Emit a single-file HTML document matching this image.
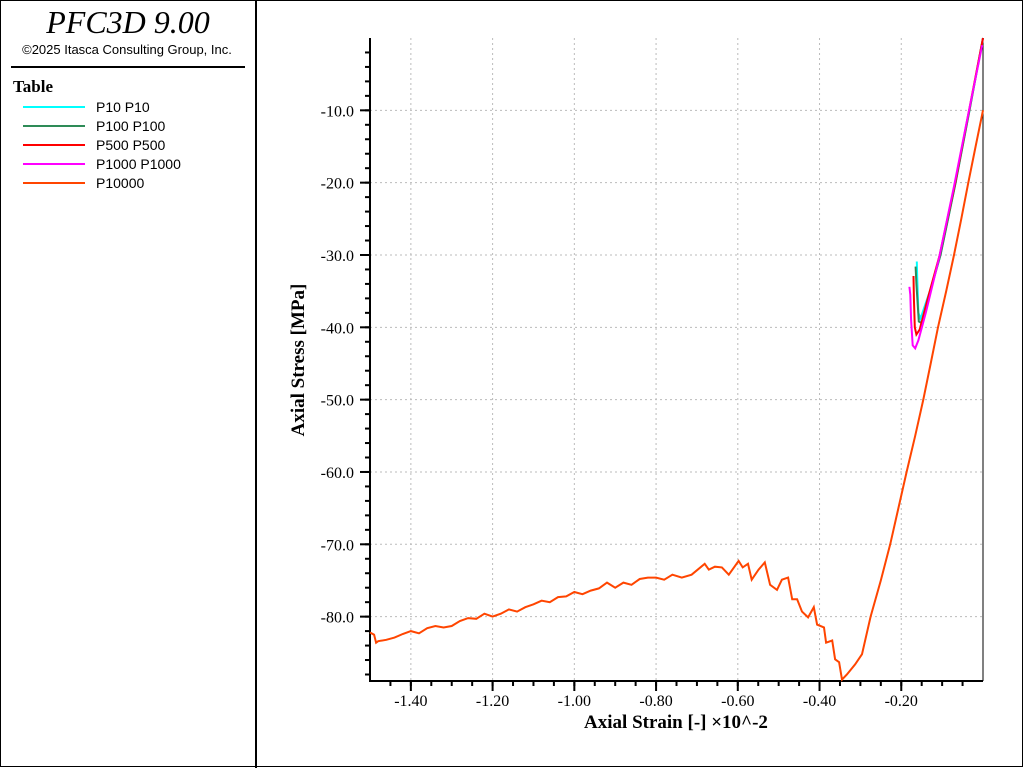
<!DOCTYPE html>
<html><head><meta charset="utf-8"><style>
body{margin:0;background:#fff;width:1024px;height:768px;overflow:hidden;font-family:"Liberation Sans",sans-serif}
</style></head><body>
<svg width="1024" height="768" xmlns="http://www.w3.org/2000/svg">
<rect x="0.5" y="0.5" width="1022" height="766" fill="#fff" stroke="#000" stroke-width="1"/>
<line x1="256" y1="0" x2="256" y2="768" stroke="#000" stroke-width="2"/>
<g>
<text x="128" y="33" text-anchor="middle" font-family="Liberation Serif" font-style="italic" font-size="32">PFC3D 9.00</text>
<text x="127" y="54" text-anchor="middle" font-size="13">©2025 Itasca Consulting Group, Inc.</text>
<line x1="11" y1="67" x2="245" y2="67" stroke="#000" stroke-width="2"/>
<text x="13" y="92" font-family="Liberation Serif" font-weight="bold" font-size="17">Table</text>
<g id="legend"></g>
</g>
<g id="plot"></g>
</svg>
<script>
const seriesNames=["P10 P10","P100 P100","P500 P500","P1000 P1000","P10000"];
const seriesColors=["#00FFFF","#2E8B57","#FF0000","#FF00FF","#FF4500"];
const xTicks=[-1.40,-1.20,-1.00,-0.80,-0.60,-0.40,-0.20];
const yTicks=[-10,-20,-30,-40,-50,-60,-70,-80];
const p10x=[0,-0.033,-0.067,-0.104,-0.13,-0.153,-0.158,-0.161,-0.162];
const p10y=[0,-10,-20,-30,-35,-38.8,-38,-33,-30.9];
const p100x=[0,-0.033,-0.067,-0.104,-0.13,-0.150,-0.157,-0.163,-0.165];
const p100y=[0,-10,-20,-30,-35.2,-39.4,-39.2,-34,-31.6];
const p500x=[0,-0.034,-0.068,-0.106,-0.135,-0.155,-0.163,-0.167,-0.169,-0.170];
const p500y=[0,-10,-20,-30,-36,-40.3,-41,-40,-36,-32.9];
const p1000x=[-0.002,-0.036,-0.071,-0.108,-0.14,-0.158,-0.166,-0.172,-0.176,-0.178,-0.18];
const p1000y=[-1,-10.5,-20.5,-30.5,-38,-41.8,-42.9,-42.5,-39,-35.5,-34.4];
const p10000x=[-1.5,-1.49,-1.485,-1.48,-1.46,-1.44,-1.42,-1.40,-1.38,-1.36,-1.34,-1.32,-1.30,-1.28,-1.26,-1.24,-1.22,-1.20,-1.18,-1.16,-1.14,-1.12,-1.10,-1.08,-1.06,-1.04,-1.02,-1.00,-0.98,-0.96,-0.94,-0.92,-0.90,-0.88,-0.86,-0.84,-0.82,-0.80,-0.78,-0.76,-0.737,-0.713,-0.681,-0.671,-0.656,-0.639,-0.622,-0.598,-0.588,-0.575,-0.566,-0.549,-0.534,-0.521,-0.504,-0.492,-0.477,-0.467,-0.455,-0.443,-0.428,-0.414,-0.406,-0.389,-0.384,-0.369,-0.362,-0.352,-0.345,-0.333,-0.313,-0.296,-0.275,-0.25,-0.227,-0.207,-0.187,-0.166,-0.146,-0.128,-0.11,-0.09,-0.071,-0.053,-0.036,-0.018,0.0];
const p10000y=[-82.2,-82.5,-83.6,-83.4,-83.2,-82.9,-82.4,-82.0,-82.3,-81.6,-81.3,-81.5,-81.3,-80.6,-80.2,-80.3,-79.6,-80.0,-79.6,-79.0,-79.3,-78.7,-78.3,-77.8,-78.0,-77.3,-77.2,-76.6,-76.9,-76.4,-76.1,-75.3,-76.0,-75.3,-75.6,-74.8,-74.6,-74.6,-74.9,-74.2,-74.6,-74.2,-72.7,-73.5,-73.1,-73.2,-74.2,-72.3,-73.2,-72.7,-74.9,-73.5,-72.5,-75.6,-76.3,-74.9,-74.6,-77.6,-77.6,-79.3,-80.1,-78.7,-81.1,-81.5,-83.6,-83.3,-85.9,-86.3,-88.7,-88.0,-86.6,-85.2,-80.0,-75.0,-70.0,-65.0,-60.0,-55.0,-50.0,-45.0,-40.0,-35.0,-30.0,-25.0,-20.0,-15.0,-10.0];
const xs=[p10x,p100x,p500x,p1000x,p10000x], ys=[p10y,p100y,p500y,p1000y,p10000y];
const NS="http://www.w3.org/2000/svg";
const L=370,R=983,T=38,B=681, XMIN=-1.5,XMAX=0.0, YMIN=-88.9,YMAX=0;
const X=v=>L+(v-XMIN)/(XMAX-XMIN)*(R-L);
const Y=v=>T+(YMAX-v)/(YMAX-YMIN)*(B-T);
function mk(tag,at,parent){const e=document.createElementNS(NS,tag);for(const k in at)e.setAttribute(k,at[k]);parent.appendChild(e);return e;}
const plot=document.getElementById('plot');
xTicks.forEach(v=>{const g=mk('line',{x1:X(v),x2:X(v),y1:T,y2:B,stroke:'#bbb','stroke-dasharray':'2,3'},plot);


const t=mk('text',{x:X(v),y:B+25,'text-anchor':'middle','font-family':'Liberation Serif','font-size':'16'},plot);t.textContent=v.toFixed(2);


mk('line',{x1:X(v),x2:X(v),y1:B,y2:B+10,stroke:'#000','stroke-width':2},plot);});
for(let v=-1.45;v<0;v+=0.05){mk('line',{x1:X(v),x2:X(v),y1:B,y2:B+5,stroke:'#000','stroke-width':2},plot);}
yTicks.forEach(v=>{const g=mk('line',{x1:L,x2:R,y1:Y(v),y2:Y(v),stroke:'#bbb','stroke-dasharray':'2,3'},plot);


const t=mk('text',{x:L-16,y:Y(v)+6,'text-anchor':'end','font-family':'Liberation Serif','font-size':'16'},plot);t.textContent=v.toFixed(1);


mk('line',{x1:L-10,x2:L,y1:Y(v),y2:Y(v),stroke:'#000','stroke-width':2},plot);});
for(let v=-2;v>-89;v-=2){mk('line',{x1:L-5,x2:L,y1:Y(v),y2:Y(v),stroke:'#000','stroke-width':2},plot);}
const ax=mk('path',{d:`M${L},${T} V${B} H${R}`,fill:'none',stroke:'#000','stroke-width':2},plot);


mk('line',{x1:R,x2:R,y1:T,y2:B,stroke:'#000','stroke-width':1},plot);
const order=[4,0,1,2,3];
order.forEach(i=>{const d=xs[i].map((v,j)=>(j?'L':'M')+X(v).toFixed(1)+','+Y(ys[i][j]).toFixed(1)).join(' ');
const p=mk('path',{d:d,fill:'none',stroke:seriesColors[i],'stroke-width':2},plot);

});
const xt=mk('text',{x:676,y:728,'text-anchor':'middle','font-family':'Liberation Serif','font-weight':'bold','font-size':'19'},plot);xt.textContent='Axial Strain [-] ×10^-2';


const yt=mk('text',{x:0,y:0,transform:'translate(304,360) rotate(-90)','text-anchor':'middle','font-family':'Liberation Serif','font-weight':'bold','font-size':'19'},plot);yt.textContent='Axial Stress [MPa]';


const lg=document.getElementById('legend');
seriesNames.forEach((n,i)=>{const y=107+i*19;
const l=mk('line',{x1:23,x2:85,y1:y,y2:y,stroke:seriesColors[i],'stroke-width':2},lg);


const t=mk('text',{x:96,y:y+5,'font-size':'14'},lg);t.textContent=n;

});
</script>
</body></html>
